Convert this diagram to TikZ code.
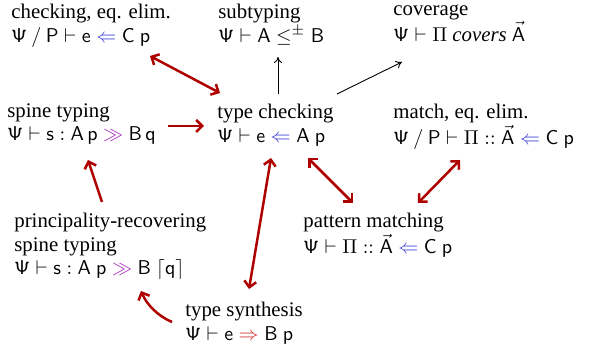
\documentclass[tikz,border=0pt]{standalone}
\usepackage[no-math]{fontspec}
\setmainfont{Liberation Serif}
\usetikzlibrary{arrows.meta,calc}
\definecolor{arrred}{RGB}{175,0,0}
\definecolor{chkblue}{RGB}{60,60,215}
\definecolor{synred}{RGB}{210,45,45}
\definecolor{spinepurple}{RGB}{165,45,185}
\newcommand{\mA}{\mathsf{A}}
\newcommand{\mB}{\mathsf{B}}
\newcommand{\mC}{\mathsf{C}}
\newcommand{\mP}{\mathsf{P}}
\newcommand{\mpp}{\mathsf{p}}
\newcommand{\mq}{\mathsf{q}}
\newcommand{\me}{\mathsf{e}}
\newcommand{\ms}{\mathsf{s}}
\newcommand{\mPsi}{\mathsf{\Psi}}
\newcommand{\chkarr}{\mathrel{\textcolor{chkblue}{\Leftarrow}}}
\newcommand{\synarr}{\mathrel{\textcolor{synred}{\Rightarrow}}}
\newcommand{\sparr}{\mathrel{\textcolor{spinepurple}{\gg}}}
\tikzset{
  lbl/.style={anchor=north west, inner sep=0pt, align=left, font=\fontsize{10.4}{11.6}\selectfont},
  rarr/.style={draw=arrred, line width=1.25pt, -{Straight Barb[length=3pt,width=6pt]}},
  rdarr/.style={draw=arrred, line width=1.25pt, {Straight Barb[length=3pt,width=6pt]}-{Straight Barb[length=3pt,width=6pt]}},
  barr/.style={draw=black, line width=0.45pt, -{To[length=3pt,width=4pt]}}
}
\begin{document}
\begin{tikzpicture}[x=0.5pt,y=-0.5pt]
\useasboundingbox (0,0) rectangle (590,352);
\node[lbl] (ce) at (11,4) {checking, eq. elim.\\ $\mPsi \mathbin{/} \mP \vdash \me \chkarr \mC\ \mpp$};
\node[lbl] (sub) at (218,4) {subtyping\\ $\mPsi \vdash \mA \leq^{\pm} \mB$};
\node[lbl] (cov) at (393,4) {coverage\\ $\mPsi \vdash \Pi\ \textit{covers}\ \vec{\mA}$};
\node[lbl] (spine) at (7,103) {spine typing\\ $\mPsi \vdash \ms : \mA\,\mpp \sparr \mB\,\mq$};
\node[lbl] (chk) at (217,104) {type checking\\ $\mPsi \vdash \me \chkarr \mA\ \mpp$};
\node[lbl] (mee) at (393,104) {match, eq. elim.\\ $\mPsi \mathbin{/} \mP \vdash \Pi :: \vec{\mA} \chkarr \mC\ \mpp$};
\node[lbl] (prs) at (14,213) {principality-recovering\\ spine typing\\ $\mPsi \vdash \ms : \mA\ \mpp \sparr \mB\ \lceil \mq \rceil$};
\node[lbl] (pm) at (303,213) {pattern matching\\ $\mPsi \vdash \Pi :: \vec{\mA} \chkarr \mC\ \mpp$};
\node[lbl] (syn) at (185,302) {type synthesis\\ $\mPsi \vdash \me \synarr \mB\ \mpp$};

\draw[rdarr] ($(ce.north west)+(139,52)$) -- ($(chk.north west)+(3,-11)$);
\draw[barr] ($(chk.north west)+(61,-10)$) -- ($(sub.north west)+(60,53)$);
\draw[barr] ($(chk.north west)+(120,-10)$) -- ($(cov.north west)+(9,58)$);
\draw[rarr] ($(spine.north west)+(161,23)$) -- ($(chk.north west)+(-13,22)$);
\draw[rarr] ($(prs.north west)+(88,-11)$) -- ($(spine.north west)+(81,57)$);
\draw[rdarr] ($(syn.north west)+(64,-13)$) -- ($(chk.north west)+(54,54)$);
\draw[rdarr] ($(chk.north west)+(91,54)$) -- ($(pm.north west)+(50,-10)$);
\draw[rdarr] ($(mee.north west)+(67,56)$) -- ($(pm.north west)+(115,-10)$);
\draw[rarr] ($(syn.north west)+(-13,20)$) .. controls +(-14,-6) and +(6,14) .. ($(prs.north west)+(127,78)$);
\end{tikzpicture}
\end{document}
